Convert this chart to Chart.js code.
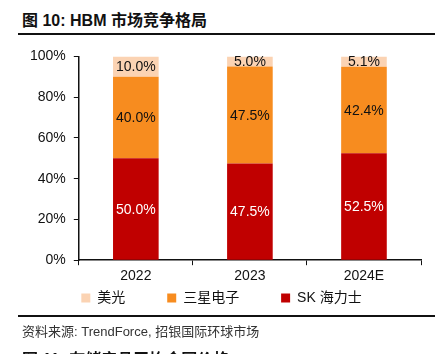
<!DOCTYPE html>
<html>
<head>
<meta charset="utf-8">
<script src="https://cdn.jsdelivr.net/npm/chart.js@4"></script>
<style>
  body { margin: 0; width: 439px; height: 354px; overflow: hidden; background: #fff;
         font-family: "Liberation Sans", "Noto Sans CJK SC", sans-serif; position: relative; }
  .title { position: absolute; left: 22px; top: 7px; font-size: 16px; font-weight: bold; color: #111; }
  .rule { position: absolute; left: 18px; width: 417px; height: 2px; background: #111; }
  .source { position: absolute; left: 22px; top: 321px; font-size: 13px; color: #333; }
  .next { position: absolute; left: 22px; top: 346px; font-size: 16px; font-weight: bold; color: #111; }
  #wrap { position: absolute; left: 0; top: 40px; width: 439px; height: 278px; }
</style>
</head>
<body>
<div class="title">图 10: HBM 市场竞争格局</div>
<div class="rule" style="top:33px"></div>
<div id="wrap"><canvas id="barChart"></canvas></div>
<div class="rule" style="top:315px"></div>
<div class="source">资料来源: TrendForce, 招银国际环球市场</div>
<div class="next">图 11: 存储产品平均合同价格</div>
<script>
var years = ["2022", "2023", "2024E"];
var skHynix = [50.0, 47.5, 52.5];
var samsung = [40.0, 47.5, 42.4];
var micron = [10.0, 5.0, 5.1];

var fontFamily = '"Liberation Sans", "Noto Sans CJK SC", sans-serif';
var legendGap = "          "; // extra room between legend items

// draw the value in the middle of each segment
var segmentLabels = {
  id: "segmentLabels",
  afterDatasetsDraw: function (chart) {
    var ctx = chart.ctx;
    ctx.save();
    ctx.font = "14px " + fontFamily;
    ctx.textAlign = "center";
    ctx.textBaseline = "middle";
    chart.data.datasets.forEach(function (ds, i) {
      var meta = chart.getDatasetMeta(i);
      meta.data.forEach(function (bar, j) {
        var mid = (bar.y + bar.base) / 2;
        ctx.fillStyle = ds.labelColor;
        ctx.fillText(ds.data[j].toFixed(1) + "%", bar.x, mid + 1);
      });
    });
    ctx.restore();
  }
};

var ctx = document.getElementById("barChart").getContext("2d");
var barChart = new Chart(ctx, {
  type: "bar",
  data: {
    labels: years,
    datasets: [
      { label: "SK 海力士", data: skHynix, backgroundColor: "#C00000", labelColor: "#fff" },
      { label: "三星电子", data: samsung, backgroundColor: "#F78C1F", labelColor: "#111" },
      { label: "美光", data: micron, backgroundColor: "#FBD3B3", labelColor: "#111" }
    ]
  },
  options: {
    responsive: true,
    maintainAspectRatio: false,
    animation: false,
    barPercentage: 0.8,
    categoryPercentage: 0.5,
    layout: { padding: { top: 14, right: 18, left: 22, bottom: 3 } },
    plugins: {
      tooltip: { enabled: false },
      legend: {
        position: "bottom",
        reverse: true,
        labels: {
          boxWidth: 9,
          boxHeight: 9,
          padding: 3,
          color: "#111",
          font: { size: 14, family: fontFamily },
          generateLabels: function (chart) {
            var items = Chart.defaults.plugins.legend.labels.generateLabels(chart);
            // legend is reversed afterwards, so SK (index 0) ends up last
            items.forEach(function (it, k) {
              it.strokeStyle = it.fillStyle;
              it.lineWidth = 0;
              if (k > 0) it.text = it.text + legendGap;
            });
            return items;
          }
        }
      }
    },
    scales: {
      x: {
        stacked: true,
        border: { color: "#111", width: 1.5 },
        grid: { drawOnChartArea: false, color: "#111", tickLength: 5 },
        ticks: { color: "#111", font: { size: 14, family: fontFamily }, padding: 3 }
      },
      y: {
        stacked: true,
        min: 0,
        max: 100,
        border: { color: "#111", width: 1.5 },
        grid: { drawOnChartArea: false, color: "#111", tickLength: 5 },
        ticks: {
          stepSize: 20,
          color: "#111",
          padding: 8,
          font: { size: 14, family: fontFamily },
          callback: function (v) { return v + "%"; }
        }
      }
    }
  },
  plugins: [segmentLabels]
});
</script>
</body>
</html>
